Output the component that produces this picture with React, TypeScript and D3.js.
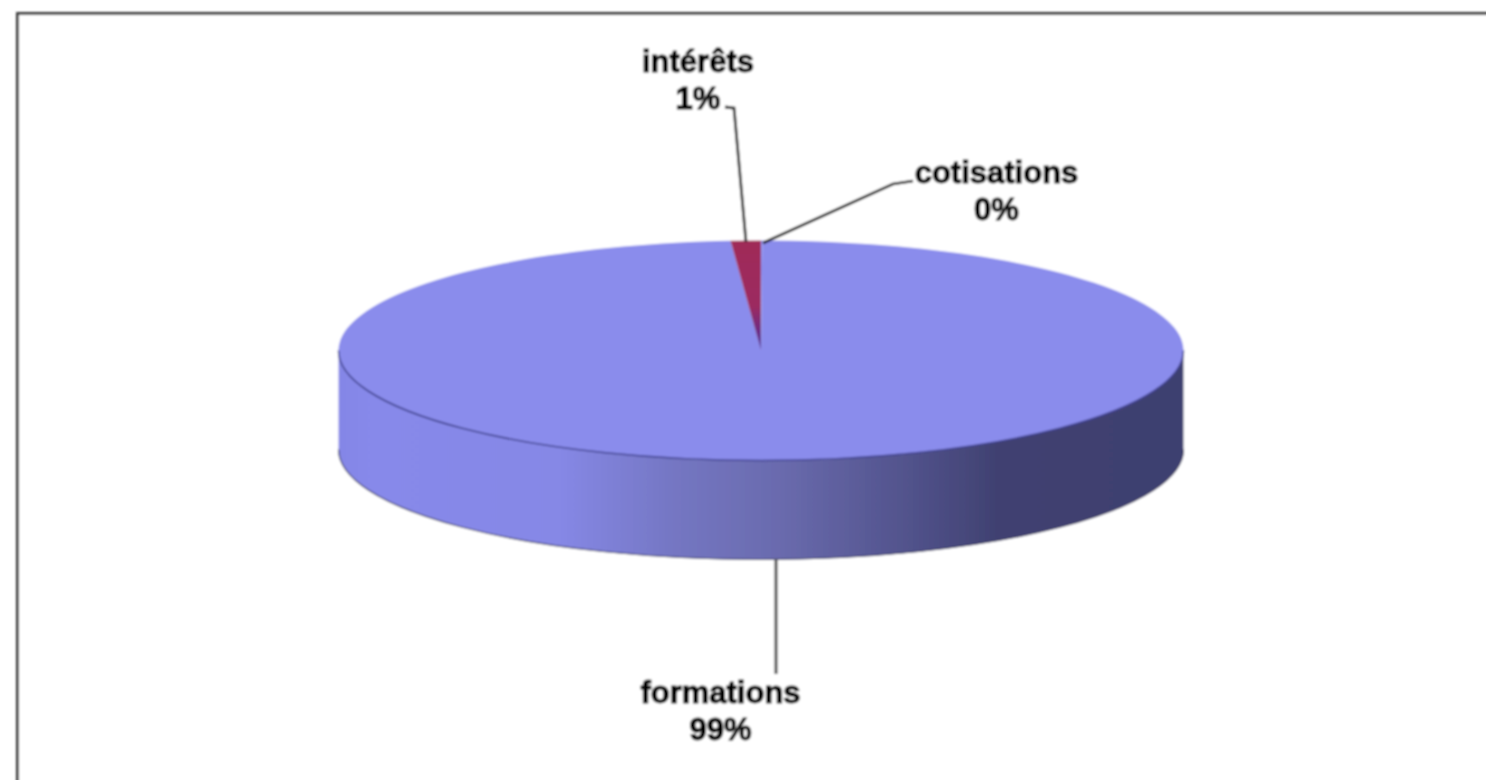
import React from "react";
import * as d3 from "d3";

const categories = ["cotisations", "formations", "intérêts"];
const shares = [0.05, 98.8, 1.15];
const percentLabels = ["0%", "99%", "1%"];

const W = 1486, H = 780;
const cx = 761, cy = 350.5, rx = 422.5, ry = 110, depth = 99;

const gradientStops: [number, string][] = [
  [0, "#8486e6"], [0.04, "#8789ea"], [0.26, "#8688e6"], [0.4, "#7476c2"],
  [0.52, "#6a6bae"], [0.69, "#4f5088"], [0.78, "#404171"], [1, "#3e3f70"],
];

export default function App() {
  const pie = d3.pie<number>().sort(null).value((d) => d);
  const arcs = pie(shares);
  const arc = d3.arc<d3.PieArcDatum<number>>().innerRadius(0).outerRadius(rx);
  const yScale = ry / rx;
  const side = `M${cx - rx},${cy}A${rx},${ry} 0 0 0 ${cx + rx},${cy}V${cy + depth}A${rx},${ry} 0 0 1 ${cx - rx},${cy + depth}Z`;
  const rim = `M${cx - rx},${cy}A${rx},${ry} 0 0 0 ${cx + rx},${cy}`;
  const labelFont = {
    fontFamily: "'Liberation Sans', Arial, sans-serif", fontWeight: 700, fontSize: 31,
    fill: "#000", stroke: "#000", strokeWidth: 1.1,
  } as const;
  const labels = [
    { i: 0, x: 996.5, y: 183, line: "M763,243L893,184L913,181", color: "#111", width: 2.6 },
    { i: 1, x: 720.5, y: 703, line: "M776,559V674", color: "#555", width: 3.2 },
    { i: 2, x: 698, y: 72, line: "M746,242L734,108L725,107", color: "#222", width: 2.8 },
  ];
  const sliceFill = ["#8a8cec", "#8a8cec", "url(#wedgeGrad)"];
  return (
    <svg width={W} height={H} viewBox={`0 0 ${W} ${H}`} style={{ position: "fixed", left: 0, top: 0, background: "#fff" }}>
      <defs>
        <linearGradient id="sideGrad" gradientUnits="userSpaceOnUse" x1={cx - rx} x2={cx + rx} y1={0} y2={0}>
          {gradientStops.map(([o, c]) => <stop key={o} offset={o} stopColor={c} />)}
        </linearGradient>
        <linearGradient id="wedgeGrad" gradientUnits="userSpaceOnUse" x1={0} x2={0} y1={-rx} y2={0}>
          <stop offset={0} stopColor="#a02a58" />
          <stop offset={0.6} stopColor="#9c2c60" />
          <stop offset={1} stopColor="#4a2ca0" />
        </linearGradient>
        <filter id="soft" x="-5%" y="-5%" width="110%" height="110%">
          <feGaussianBlur stdDeviation="0.85" />
        </filter>
      </defs>
      <g filter="url(#soft)">
        <rect x={17.5} y={13.5} width={W + 20} height={H + 20} fill="#fff" stroke="#3c3c3c" strokeWidth={3} />
        <path d={side} fill="url(#sideGrad)" />
        <g transform={`translate(${cx},${cy}) scale(1,${yScale})`}>
          {arcs.map((a, i) => (
            <path key={categories[i]} d={arc(a) ?? ""} fill={sliceFill[i]} />
          ))}
        </g>
        <path d={rim} fill="none" stroke="#40428f" strokeWidth={1.6} />
        <path d={rim} transform={`translate(0,${depth})`} fill="none" stroke="#35365f" strokeWidth={1.2} />
        {labels.map(({ i, x, y, line, color, width }) => (
          <g key={categories[i]}>
            <path d={line} fill="none" stroke={color} strokeWidth={width} />
            <text x={x} y={y} textAnchor="middle" style={labelFont}>{categories[i]}</text>
            <text x={x} y={y + 36.5} textAnchor="middle" style={labelFont}>{percentLabels[i]}</text>
          </g>
        ))}
      </g>
    </svg>
  );
}
